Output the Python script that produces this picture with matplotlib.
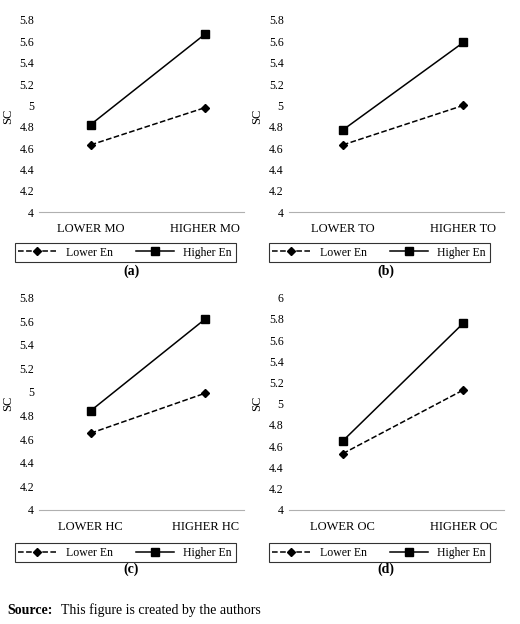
import matplotlib.pyplot as plt
from matplotlib.ticker import FuncFormatter

plt.rcParams['font.family'] = ['Liberation Serif', 'DejaVu Serif']

# --- data ---
panels = ['(a)', '(b)', '(c)', '(d)']
xcats = [['LOWER MO', 'HIGHER MO'], ['LOWER TO', 'HIGHER TO'],
         ['LOWER HC', 'HIGHER HC'], ['LOWER OC', 'HIGHER OC']]
lower_en = [[4.63, 4.98], [4.63, 5.00], [4.65, 4.99], [4.53, 5.13]]
higher_en = [[4.82, 5.67], [4.77, 5.59], [4.84, 5.62], [4.65, 5.76]]
ymax = [5.8, 5.8, 5.8, 6.0]

fig = plt.figure(figsize=(5.2, 6.24), dpi=100)
rects = [
    [0.075, 0.660, 0.395, 0.308],
    [0.555, 0.660, 0.415, 0.308],
    [0.075, 0.183, 0.395, 0.340],
    [0.555, 0.183, 0.415, 0.340],
]
fmt = FuncFormatter(lambda v, p: f'{v:g}')

for i, r in enumerate(rects):
    ax = fig.add_axes(r)
    ax.plot([0, 1], lower_en[i], color='black', linestyle='--', marker='D',
            markersize=4.5, linewidth=1.1, label='Lower En')
    ax.plot([0, 1], higher_en[i], color='black', linestyle='-', marker='s',
            markersize=5.5, linewidth=1.1, label='Higher En')
    ax.set_xlim(-0.45, 1.34)
    ax.set_ylim(4, ymax[i])
    ax.set_yticks([round(4 + 0.2 * k, 1) for k in range(int(round((ymax[i] - 4) / 0.2)) + 1)])
    ax.yaxis.set_major_formatter(fmt)
    ax.set_xticks([0, 1])
    ax.set_xticklabels(xcats[i], fontsize=9)
    ax.tick_params(axis='y', labelsize=8.5, length=0)
    ax.tick_params(axis='x', length=0, pad=8)
    for s in ['top', 'right', 'left']:
        ax.spines[s].set_visible(False)
    ax.spines['bottom'].set_color('#b0b0b0')
    ax.set_ylabel('SC', fontsize=9)
    leg = ax.legend(loc='upper center', bbox_to_anchor=(0.42, -0.13), ncol=2,
                    fontsize=8.5, frameon=True, fancybox=False, edgecolor='black',
                    handlelength=3.2, columnspacing=2.0, borderpad=0.3)
    leg.get_frame().set_linewidth(0.8)
    ax.text(0.45, -0.31 if i < 2 else -0.28, panels[i], transform=ax.transAxes,
            ha='center', va='center', fontsize=10, fontweight='bold')

fig.text(0.015, 0.022, 'Source:', fontsize=10, fontweight='bold', ha='left', va='center')
fig.text(0.118, 0.022, 'This figure is created by the authors', fontsize=10, ha='left', va='center')

fig.savefig('out.png', dpi=100, facecolor='white')
